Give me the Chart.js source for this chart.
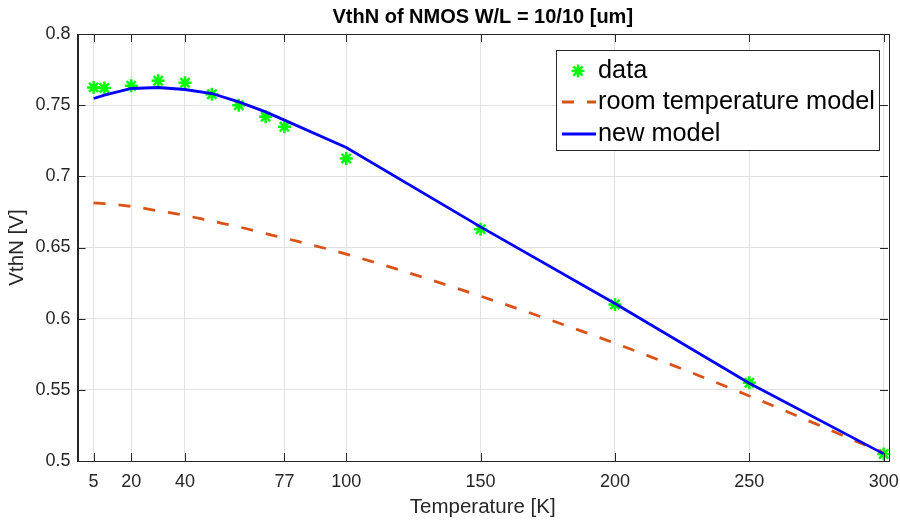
<!DOCTYPE html>
<html>
<head>
<meta charset="utf-8">
<script src="https://cdn.jsdelivr.net/npm/chart.js@4.4.0/dist/chart.umd.min.js"></script>
<style>
  html, body { margin: 0; padding: 0; background: #fff; }
  #wrap { width: 900px; height: 523px; }
</style>
</head>
<body>
<div id="wrap"><canvas id="chart"></canvas></div>
<script>
// values
const temps = [6, 10, 20, 30, 40, 50, 60, 70, 77, 100, 150, 200, 250, 300];
const vthData = [0.7625, 0.7621, 0.7636, 0.7671, 0.7657, 0.7577, 0.7500, 0.7418, 0.7348, 0.7126, 0.6629, 0.6100, 0.5550, 0.5049];
const vthRoom = [0.6814, 0.6808, 0.6789, 0.6758, 0.6725, 0.6685, 0.6645, 0.6598, 0.6566, 0.6454, 0.6158, 0.5827, 0.5457, 0.5056];
const vthNew = [0.7547, 0.7570, 0.7617, 0.7624, 0.7610, 0.7582, 0.7523, 0.7453, 0.7395, 0.7203, 0.6645, 0.6107, 0.5546, 0.5050];

const xTickValues = [6, 20, 40, 77, 100, 150, 200, 250, 300];
const xTickLabels = ['5', '20', '40', '77', '100', '150', '200', '250', '300'];
const seriesLabels = ['data', 'room temperature model', 'new model'];
const titleText = 'VthN of NMOS W/L = 10/10 [um]';

const FONT = "'Liberation Sans', Arial, Helvetica, sans-serif";
const AXIS_COLOR = '#262626';
const GREEN = '#00ff00';
const ORANGE = '#d95319';
const BLUE = '#0000ff';

function points(ys) {
  return temps.map((t, i) => ({ x: t, y: ys[i] }));
}

function drawStar(ctx, cx, cy, r) {
  ctx.beginPath();
  for (let k = 0; k < 4; k++) {
    const ang = k * Math.PI / 4;
    const dx = Math.cos(ang) * r, dy = Math.sin(ang) * r;
    ctx.moveTo(cx - dx, cy - dy);
    ctx.lineTo(cx + dx, cy + dy);
  }
  ctx.stroke();
}

// box around the axes + inward tick marks, like matlab
const axesBox = {
  id: 'axesBox',
  afterDatasetsDraw(chart) {
    const { ctx, chartArea: a, scales } = chart;
    const x = scales.x, y = scales.y;
    ctx.save();
    ctx.strokeStyle = AXIS_COLOR;
    ctx.lineWidth = 1;
    ctx.beginPath();
    xTickValues.forEach(v => {
      const px = Math.round(x.getPixelForValue(v)) + 0.5;
      ctx.moveTo(px, a.bottom); ctx.lineTo(px, a.bottom - 8);
      ctx.moveTo(px, a.top); ctx.lineTo(px, a.top + 8);
    });
    y.ticks.forEach(t => {
      const py = Math.round(y.getPixelForValue(t.value)) + 0.5;
      ctx.moveTo(a.left, py); ctx.lineTo(a.left + 8, py);
      ctx.moveTo(a.right, py); ctx.lineTo(a.right - 8, py);
    });
    ctx.stroke();
    ctx.strokeRect(Math.round(a.left) + 0.5, Math.round(a.top) + 0.5,
      Math.round(a.right - a.left), Math.round(a.bottom - a.top));
    ctx.restore();
  }
};

// bold title centred over the plot area
const plotTitle = {
  id: 'plotTitle',
  afterDraw(chart) {
    const ctx = chart.ctx;
    const a = chart.chartArea;
    ctx.save();
    ctx.font = 'bold 20px ' + FONT;
    ctx.fillStyle = '#000';
    ctx.textBaseline = 'middle';
    ctx.textAlign = 'center';
    ctx.fillText(titleText, (a.left + a.right) / 2, 17);
    ctx.restore();
  }
};

// legend box drawn inside the plot, top right
const boxLegend = {
  id: 'boxLegend',
  afterDraw(chart) {
    const ctx = chart.ctx;
    const bx = 556, by = 50, bw = 323, bh = 100;
    const rowY = [71, 102, 134];
    ctx.save();
    ctx.fillStyle = '#fff';
    ctx.fillRect(bx, by, bw, bh);
    ctx.strokeStyle = AXIS_COLOR;
    ctx.lineWidth = 1;
    ctx.strokeRect(bx + 0.5, by + 0.5, bw, bh);

    ctx.strokeStyle = GREEN;
    ctx.lineWidth = 2.5;
    drawStar(ctx, 578, rowY[0], 6.5);

    ctx.strokeStyle = ORANGE;
    ctx.lineWidth = 2.8;
    ctx.setLineDash([12, 13]);
    ctx.beginPath();
    ctx.moveTo(562, rowY[1]); ctx.lineTo(596, rowY[1]);
    ctx.stroke();
    ctx.setLineDash([]);

    ctx.strokeStyle = BLUE;
    ctx.beginPath();
    ctx.moveTo(562, rowY[2]); ctx.lineTo(596, rowY[2]);
    ctx.stroke();

    ctx.fillStyle = '#000';
    ctx.font = '25.3px ' + FONT;
    ctx.textBaseline = 'middle';
    ctx.textAlign = 'left';
    seriesLabels.forEach((s, i) => ctx.fillText(s, 598, rowY[i]));
    ctx.restore();
  }
};

const ctx = document.getElementById('chart').getContext('2d');
new Chart(ctx, {
  type: 'line',
  data: {
    datasets: [
      {
        label: seriesLabels[0],
        data: points(vthData),
        showLine: false,
        pointStyle: 'star',
        pointRadius: 6.5,
        pointHoverRadius: 6.5,
        pointBorderWidth: 2.5,
        borderColor: GREEN,
        backgroundColor: GREEN,
        clip: false,
        order: 3
      },
      {
        label: seriesLabels[1],
        data: points(vthRoom),
        borderColor: ORANGE,
        borderWidth: 2.8,
        borderDash: [12, 13],
        pointRadius: 0,
        cubicInterpolationMode: 'monotone',
        order: 2
      },
      {
        label: seriesLabels[2],
        data: points(vthNew),
        borderColor: BLUE,
        borderWidth: 2.8,
        pointRadius: 0,
        tension: 0,
        order: 1
      }
    ]
  },
  options: {
    responsive: true,
    maintainAspectRatio: false,
    animation: false,
    layout: { padding: { top: 34, right: 12, left: 0, bottom: 0 } },
    scales: {
      x: {
        type: 'linear',
        min: 0,
        max: 301.6,
        afterFit: (scale) => {
          scale.height = 62;
          scale.paddingLeft = 0;
          scale.paddingRight = 0;
        },
        afterBuildTicks: (scale) => { scale.ticks = xTickValues.map(v => ({ value: v })); },
        ticks: {
          autoSkip: false,
          maxRotation: 0,
          padding: 10,
          color: AXIS_COLOR,
          font: { family: FONT, size: 18 },
          callback: (v, i) => xTickLabels[i]
        },
        grid: { color: '#e1e1e1', drawTicks: false },
        border: { display: true, color: AXIS_COLOR },
        title: {
          display: true,
          text: 'Temperature [K]',
          color: AXIS_COLOR,
          font: { family: FONT, size: 20.5 },
          padding: { top: 0, bottom: 3 }
        }
      },
      y: {
        min: 0.5,
        max: 0.8,
        afterFit: (scale) => {
          scale.width = 77.5;
          scale.paddingTop = 0;
          scale.paddingBottom = 0;
        },
        ticks: {
          stepSize: 0.05,
          padding: 7,
          color: AXIS_COLOR,
          font: { family: FONT, size: 18 },
          callback: (v) => String(Number(v.toFixed(2)))
        },
        grid: { color: '#e1e1e1', drawTicks: false },
        border: { display: true, color: AXIS_COLOR },
        title: {
          display: true,
          text: 'VthN [V]',
          color: AXIS_COLOR,
          font: { family: FONT, size: 20.5 },
          padding: { top: 5, bottom: 0 }
        }
      }
    },
    plugins: {
      legend: { display: false },
      tooltip: { enabled: false },
      title: { display: false }
    }
  },
  plugins: [axesBox, plotTitle, boxLegend]
});
</script>
</body>
</html>
